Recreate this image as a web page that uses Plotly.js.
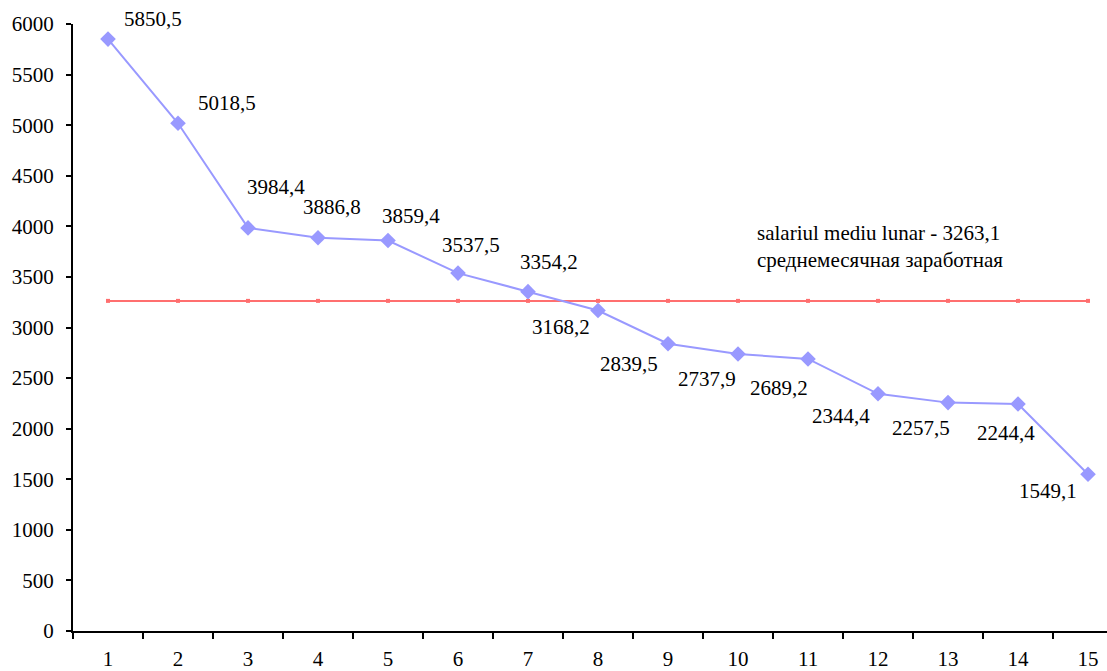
<!DOCTYPE html>
<html>
<head>
<meta charset="utf-8">
<script src="https://cdn.plot.ly/plotly-3.0.1.min.js"></script>
<style>html,body{margin:0;padding:0;background:#fff;overflow:hidden}</style>
</head>
<body>
<div id="chart" style="width:1107px;height:671px"></div>
<script>
const categories = ["1","2","3","4","5","6","7","8","9","10","11","12","13","14","15"];
const salaries = [5850.5, 5018.5, 3984.4, 3886.8, 3859.4, 3537.5, 3354.2, 3168.2, 2839.5, 2737.9, 2689.2, 2344.4, 2257.5, 2244.4, 1549.1];
const meanSalary = 3263.1;
const meanLabel = "salariul mediu lunar - 3263,1<br>среднемесячная заработная";

// label offsets in pixels (dx, dy) relative to each point
const labelOffsets = [[45,-20],[49,-20],[28,-41],[14,-31],[23,-25],[13,-28],[21,-30],[-37,17],[-39,20],[-31,25],[-29,29],[-37,22],[-27,25],[-12,29],[-40,17]];

const fmt = v => v.toFixed(1).replace('.', ',');
const serif = '"Liberation Serif", "Times New Roman", serif';

const traces = [
  {
    x: categories,
    y: categories.map(() => meanSalary),
    type: 'scatter', mode: 'lines+markers',
    line: {color: '#ff6f6f', width: 2},
    marker: {color: '#ff6f6f', size: 4, symbol: 'square'},
    hoverinfo: 'skip'
  },
  {
    x: categories,
    y: salaries,
    type: 'scatter', mode: 'lines+markers',
    line: {color: '#9999ff', width: 2},
    marker: {color: '#9999ff', size: 12, symbol: 'diamond'}
  }
];

const annotations = salaries.map((v, i) => ({
  x: i, y: v, xref: 'x', yref: 'y',
  text: fmt(v), showarrow: false,
  xshift: labelOffsets[i][0], yshift: -labelOffsets[i][1],
  font: {family: serif, size: 21, color: '#000'}
}));
annotations.push({
  x: 0.6596, xref: 'paper', y: 3796, yref: 'y',
  xanchor: 'left', yanchor: 'middle', align: 'left',
  text: meanLabel, showarrow: false,
  font: {family: serif, size: 21, color: '#000'}
});

const layout = {
  width: 1107, height: 671,
  margin: {l: 73, r: 0, t: 24, b: 40},
  paper_bgcolor: '#fff', plot_bgcolor: '#fff',
  showlegend: false,
  font: {family: serif, size: 21, color: '#000'},
  xaxis: {
    type: 'category', range: [-0.5, 14.271],
    showline: true, linecolor: '#000', linewidth: 2,
    ticks: 'outside', tickson: 'boundaries', ticklen: 6, tickwidth: 2, tickcolor: '#000',
    showgrid: false, zeroline: false,
    ticklabelstandoff: 8,
    tickfont: {family: serif, size: 21, color: '#000'}
  },
  yaxis: {
    range: [0, 6000], dtick: 500, tick0: 0,
    showline: true, linecolor: '#000', linewidth: 2,
    ticks: 'outside', ticklen: 5, tickwidth: 2, tickcolor: '#000',
    showgrid: false, zeroline: false,
    ticklabelstandoff: 8,
    tickfont: {family: serif, size: 21, color: '#000'}
  },
  annotations: annotations
};

Plotly.newPlot('chart', traces, layout, {displayModeBar: false, staticPlot: true});
</script>
</body>
</html>
